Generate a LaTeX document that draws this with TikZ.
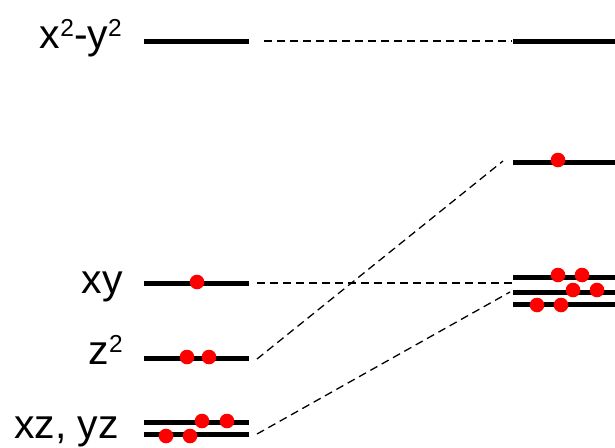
\documentclass[tikz,border=0pt]{standalone}
\usepackage{fontspec}
\setmainfont{Liberation Sans}
\newcommand{\supdigit}[1]{\raisebox{11.5pt}{\fontsize{24.5}{24.5}\selectfont #1}}
\begin{document}
\begin{tikzpicture}[x=1pt,y=-1pt,
  level/.style={line width=5pt},
  conn/.style={line width=1.3pt,dash pattern=on 8pt off 5pt},
  elec/.style={circle,fill=red,inner sep=0pt,minimum size=14.6pt},
  lab/.style={anchor=base east,inner sep=0pt,font=\fontsize{41}{41}\selectfont}]
\useasboundingbox (0,0) rectangle (615,447);
% left levels
\coordinate (A1) at (144,41);  \coordinate (A2) at (249,41);
\coordinate (B1) at (144,283); \coordinate (B2) at (249,283);
\coordinate (C1) at (144,358); \coordinate (C2) at (249,358);
\coordinate (D1) at (144,422); \coordinate (D2) at (249,422);
\coordinate (E1) at (144,434); \coordinate (E2) at (249,434);
% right levels
\coordinate (R1) at (513,41);  \coordinate (R1e) at (615,41);
\coordinate (R2) at (513,162); \coordinate (R2e) at (615,162);
\coordinate (R3) at (513,277); \coordinate (R3e) at (615,277);
\coordinate (R4) at (513,292); \coordinate (R4e) at (615,292);
\coordinate (R5) at (513,304); \coordinate (R5e) at (615,304);
\foreach \a/\b in {A1/A2,B1/B2,C1/C2,D1/D2,E1/E2,R1/R1e,R2/R2e,R3/R3e,R4/R4e,R5/R5e}
  \draw[level] (\a) -- (\b);
% labels
\node[lab] (lA) at (122,48) {x\supdigit{2}-y\supdigit{2}};
\node[lab] (lB) at (123,293) {xy};
\node[lab] (lC) at (123,364) {z\supdigit{2}};
\node[lab] (lD) at (119,438) {xz, yz};
% connector end points
\coordinate (cA) at (264,41);  \coordinate (cR1) at (512,41);
\coordinate (cB) at (257,283); \coordinate (cR3) at (513,283);
\coordinate (cC) at (257,359); \coordinate (cR2) at (503,161);
\coordinate (cE) at (257,434); \coordinate (cR4) at (510,292);
\draw[conn] (cA) -- (cR1);
\draw[conn] (cB) -- (cR3);
\draw[conn] (cC) -- (cR2);
\draw[conn] (cE) -- (cR4);
% electrons
\node[elec] (e1) at (197,282) {};
\node[elec] (e2) at (187,357) {};
\node[elec] (e3) at (209,357) {};
\node[elec] (e4) at (202,421) {};
\node[elec] (e5) at (227,421) {};
\node[elec] (e6) at (166,436) {};
\node[elec] (e7) at (190,436) {};
\node[elec] (e8) at (558,160) {};
\node[elec] (e9) at (558,275) {};
\node[elec] (e10) at (582,275) {};
\node[elec] (e11) at (573,290) {};
\node[elec] (e12) at (597,290) {};
\node[elec] (e13) at (537,305) {};
\node[elec] (e14) at (561,305) {};
\end{tikzpicture}
\end{document}
